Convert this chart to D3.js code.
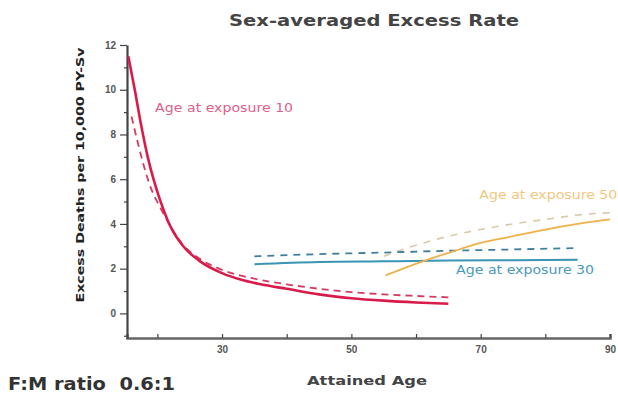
<!DOCTYPE html>
<html>
<head>
<meta charset="utf-8">
<script src="https://cdn.jsdelivr.net/npm/d3@7"></script>
<style>
  html,body{margin:0;padding:0;background:#fff;overflow:hidden}
  svg{display:block;font-family:"DejaVu Sans",Verdana,sans-serif}
</style>
</head>
<body>
<svg id="chart" width="618" height="397"></svg>
<script>
// attained age (x) and excess deaths per 10,000 PY-Sv (y)
const exp10Solid=[[15.5,11.5],[16.5,10.0],[17.5,8.4],[18.5,7.0],[19.5,5.9],[20.5,5.0],[22,3.9],[24,3.0],[26.5,2.35],[30,1.8],[33,1.5],[36,1.3],[40,1.1],[45,0.85],[50,0.68],[55,0.57],[60,0.49],[65,0.43]]
const exp10Dash=[[16,8.8],[17,7.6],[17.8,6.7],[19,5.6],[20.5,4.7],[22,3.9],[24,3.05],[26.5,2.45],[30,1.95],[35,1.55],[40,1.3],[45,1.1],[50,0.95],[55,0.85],[60,0.78],[65,0.72]]
const exp30Solid=[[35,2.2],[45,2.3],[55,2.33],[65,2.36],[75,2.38],[85,2.4]]
const exp30Dash=[[35,2.55],[45,2.65],[55,2.72],[65,2.8],[75,2.86],[85,2.92]]
const exp50Solid=[[55.3,1.7],[58,2.0],[61.8,2.4],[66,2.8],[70,3.15],[75,3.45],[80,3.75],[85,4.0],[90,4.2]]
const exp50Dash=[[55,2.55],[60,3.05],[65,3.45],[70,3.75],[75,4.0],[80,4.2],[85,4.4],[90,4.5]]
const xTicks=[20,30,40,50,60,70,80,90]
const xLabels=[30,50,70,90]
const yTicks=[-1,0,1,2,3,4,5,6,7,8,9,10,11,12]
const yLabels=[0,2,4,6,8,10,12]
const seriesLabels=[
  {text:'Age at exposure 10',x:19.65,y:9.18,color:'#e0608a'},
  {text:'Age at exposure 50',x:69.8,y:5.29,color:'#f2c77e'},
  {text:'Age at exposure 30',x:66.2,y:1.9,color:'#4a98bb'}
]

const svg=d3.select('#chart')
const x=d3.scaleLinear().domain([15.3,90]).range([127,610])
const y=d3.scaleLinear().domain([-1.1,12]).range([338,45])

//坐标轴
const axisColor='#444'
const gx=svg.append('g').attr('transform',`translate(0,${y(-1.1)})`)
  .call(d3.axisBottom(x).tickValues(xTicks).tickSize(-4)
    .tickFormat(d=>xLabels.includes(d)?d:''))
gx.select('.domain').attr('stroke','#666').attr('stroke-width',2.5)
gx.selectAll('.tick line').attr('stroke',axisColor).attr('stroke-width',1.2)
gx.selectAll('.tick text').attr('dy',12).attr('font-size',10).attr('font-weight','bold')
  .attr('fill','#555')

const gy=svg.append('g').attr('transform',`translate(${x(15.3)},0)`)
  .call(d3.axisLeft(y).tickValues(yTicks).tickSizeOuter(0)
    .tickFormat(d=>yLabels.includes(d)?d:''))
gy.select('.domain').attr('stroke',axisColor).attr('stroke-width',2.2)
gy.selectAll('.tick line').attr('stroke',axisColor).attr('stroke-width',1.2)
  .attr('x2',d=>yLabels.includes(d)?-7:-3)
gy.selectAll('.tick text').attr('x',-11).attr('font-size',10).attr('font-weight','bold')
  .attr('fill','#555')

const line=d3.line().x(d=>x(d[0])).y(d=>y(d[1])).curve(d3.curveMonotoneX)
const draw=(data,color,width,dash)=>{
  svg.append('path').datum(data)
    .attr('d',line).attr('fill','none')
    .attr('stroke',color).attr('stroke-width',width)
    .attr('stroke-dasharray',dash||null)
}
draw(exp50Dash,'#d9c9a6',1.6,'7,7')
draw(exp30Dash,'#3f7f9f',1.8,'7,6')
draw(exp30Solid,'#3a95b5',2)
draw(exp50Solid,'#f0b04a',1.8)
draw(exp10Dash,'#d83a62',1.8,'7,5')
draw(exp10Solid,'#d81b4a',2.6)

svg.selectAll('text.seriesLabel').data(seriesLabels).enter()
  .append('text').classed('seriesLabel',true)
  .attr('x',d=>x(d.x)).attr('y',d=>y(d.y))
  .attr('font-size',11.5).attr('fill',d=>d.color)
  .attr('dominant-baseline','middle')
  .attr('textLength',138).attr('lengthAdjust','spacingAndGlyphs')
  .text(d=>d.text)

//标题
svg.append('text').attr('x',374).attr('y',26).attr('text-anchor','middle')
  .attr('font-size',15).attr('font-weight','bold').attr('fill','#444')
  .attr('textLength',290).attr('lengthAdjust','spacingAndGlyphs')
  .text('Sex-averaged Excess Rate')
svg.append('text').attr('transform','translate(84,175) rotate(-90)')
  .attr('text-anchor','middle').attr('font-size',11).attr('font-weight','bold').attr('fill','#222')
  .attr('textLength',255).attr('lengthAdjust','spacingAndGlyphs')
  .text('Excess Deaths per 10,000 PY-Sv')
svg.append('text').attr('x',367).attr('y',385).attr('text-anchor','middle')
  .attr('font-size',13).attr('font-weight','bold').attr('fill','#444')
  .attr('textLength',120).attr('lengthAdjust','spacingAndGlyphs')
  .text('Attained Age')
svg.append('text').attr('x',8).attr('y',390)
  .attr('font-size',17).attr('font-weight','bold').attr('fill','#333')
  .attr('xml:space','preserve')
  .attr('textLength',167).attr('lengthAdjust','spacingAndGlyphs')
  .text('F:M ratio  0.6:1')
</script>
</body>
</html>
